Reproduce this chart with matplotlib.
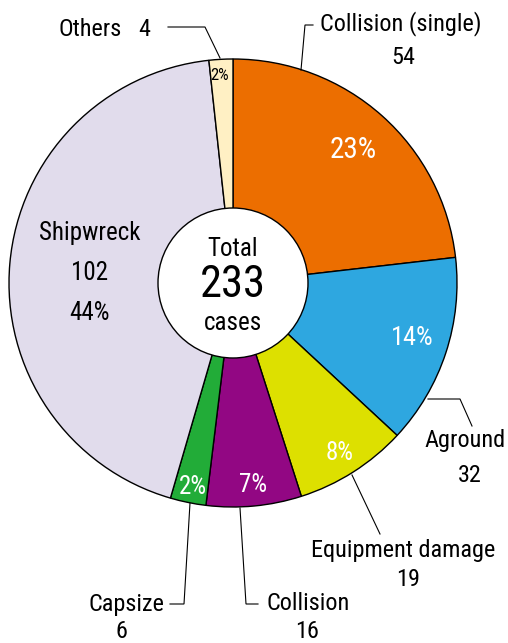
import matplotlib.pyplot as plt
from matplotlib.patches import Circle

plt.rcParams['font.family'] = ['Roboto Condensed', 'DejaVu Sans']

categories = ["Collision (single)", "Aground", "Equipment damage", "Collision",
              "Capsize", "Shipwreck", "Others"]
counts = [54, 32, 19, 16, 6, 102, 4]
pct_labels = ["23%", "14%", "8%", "7%", "2%", "44%", "2%"]
colors = ["#EC6E00", "#2EA7E0", "#DDE000", "#920783", "#22AC38", "#E1DCEC", "#FFF0C4"]

W, H = 508, 643
CX, CY, R = 233, 283, 224


def px(x, y):
    # pixel position (from top-left) -> data coords of the pie axes
    return (x - CX) / R, (CY - y) / R


fig = plt.figure(figsize=(W / 100, H / 100), dpi=100)
ax = fig.add_axes([(CX - R) / W, (H - CY - R) / H, 2 * R / W, 2 * R / H])

ax.pie(counts, colors=colors, startangle=90, counterclock=False, radius=1,
       wedgeprops=dict(edgecolor="black", linewidth=1.0))
ax.set_xlim(-1, 1)
ax.set_ylim(-1, 1)
ax.axis("off")

ax.add_patch(Circle((0, 0), 75 / R, facecolor="white", edgecolor="black", lw=1.0, zorder=5))

ax.text(*px(233, 249), "Total", fontsize=18, ha="center", va="center", zorder=6)
ax.text(*px(233, 285), str(sum(counts)), fontsize=32, ha="center", va="center", zorder=6)
ax.text(*px(233, 323), "cases", fontsize=18, ha="center", va="center", zorder=6)

# percent labels inside wedges
pct_pos = [(353, 150, 21, "white"), (412, 338, 19, "white"), (340, 453, 18, "white"),
           (253, 485, 18, "white"), (193, 487, 18, "white"), (90, 313, 18, "black"),
           (220, 75, 12, "black")]
for lab, (x, y, fs, c) in zip(pct_labels, pct_pos):
    ax.text(*px(x, y), lab, fontsize=fs, color=c, ha="center", va="center", clip_on=False)

ax.text(*px(90, 233), categories[5], fontsize=18, ha="center", va="center")
ax.text(*px(90, 273), str(counts[5]), fontsize=18, ha="center", va="center")

fs = 17.5
kw = dict(fontsize=fs, va="center", clip_on=False)

def leader(points):
    xs, ys = zip(*[px(x, y) for x, y in points])
    ax.plot(xs, ys, color="black", lw=0.8, clip_on=False, solid_joinstyle="miter")

# Collision (single)
leader([(301, 70), (305, 25), (313, 25)])
ax.text(*px(320, 24), categories[0], ha="left", **kw)
ax.text(*px(403, 57), str(counts[0]), ha="center", **kw)

# Aground
leader([(428, 399), (460, 399), (472, 426)])
ax.text(*px(465, 441), categories[1], ha="center", **kw)
ax.text(*px(470, 476), str(counts[1]), ha="center", **kw)

# Equipment damage
leader([(352, 475), (380, 534)])
ax.text(*px(403, 550), categories[2], ha="center", **kw)
ax.text(*px(408, 579), str(counts[2]), ha="center", **kw)

# Collision
leader([(240, 508), (246, 604), (258, 604)])
ax.text(*px(266, 604), categories[3], ha="left", **kw)
ax.text(*px(307, 632), str(counts[3]), ha="center", **kw)

# Capsize
leader([(190, 503), (184, 604), (170, 604)])
ax.text(*px(164, 604), categories[4], ha="right", **kw)
ax.text(*px(121, 632), str(counts[4]), ha="center", **kw)

# Others
leader([(220, 58), (205, 27), (168, 27)])
ax.text(*px(58, 29), categories[6], ha="left", **kw)
ax.text(*px(144, 29), str(counts[6]), ha="center", **kw)

fig.savefig("out.png", dpi=100)
